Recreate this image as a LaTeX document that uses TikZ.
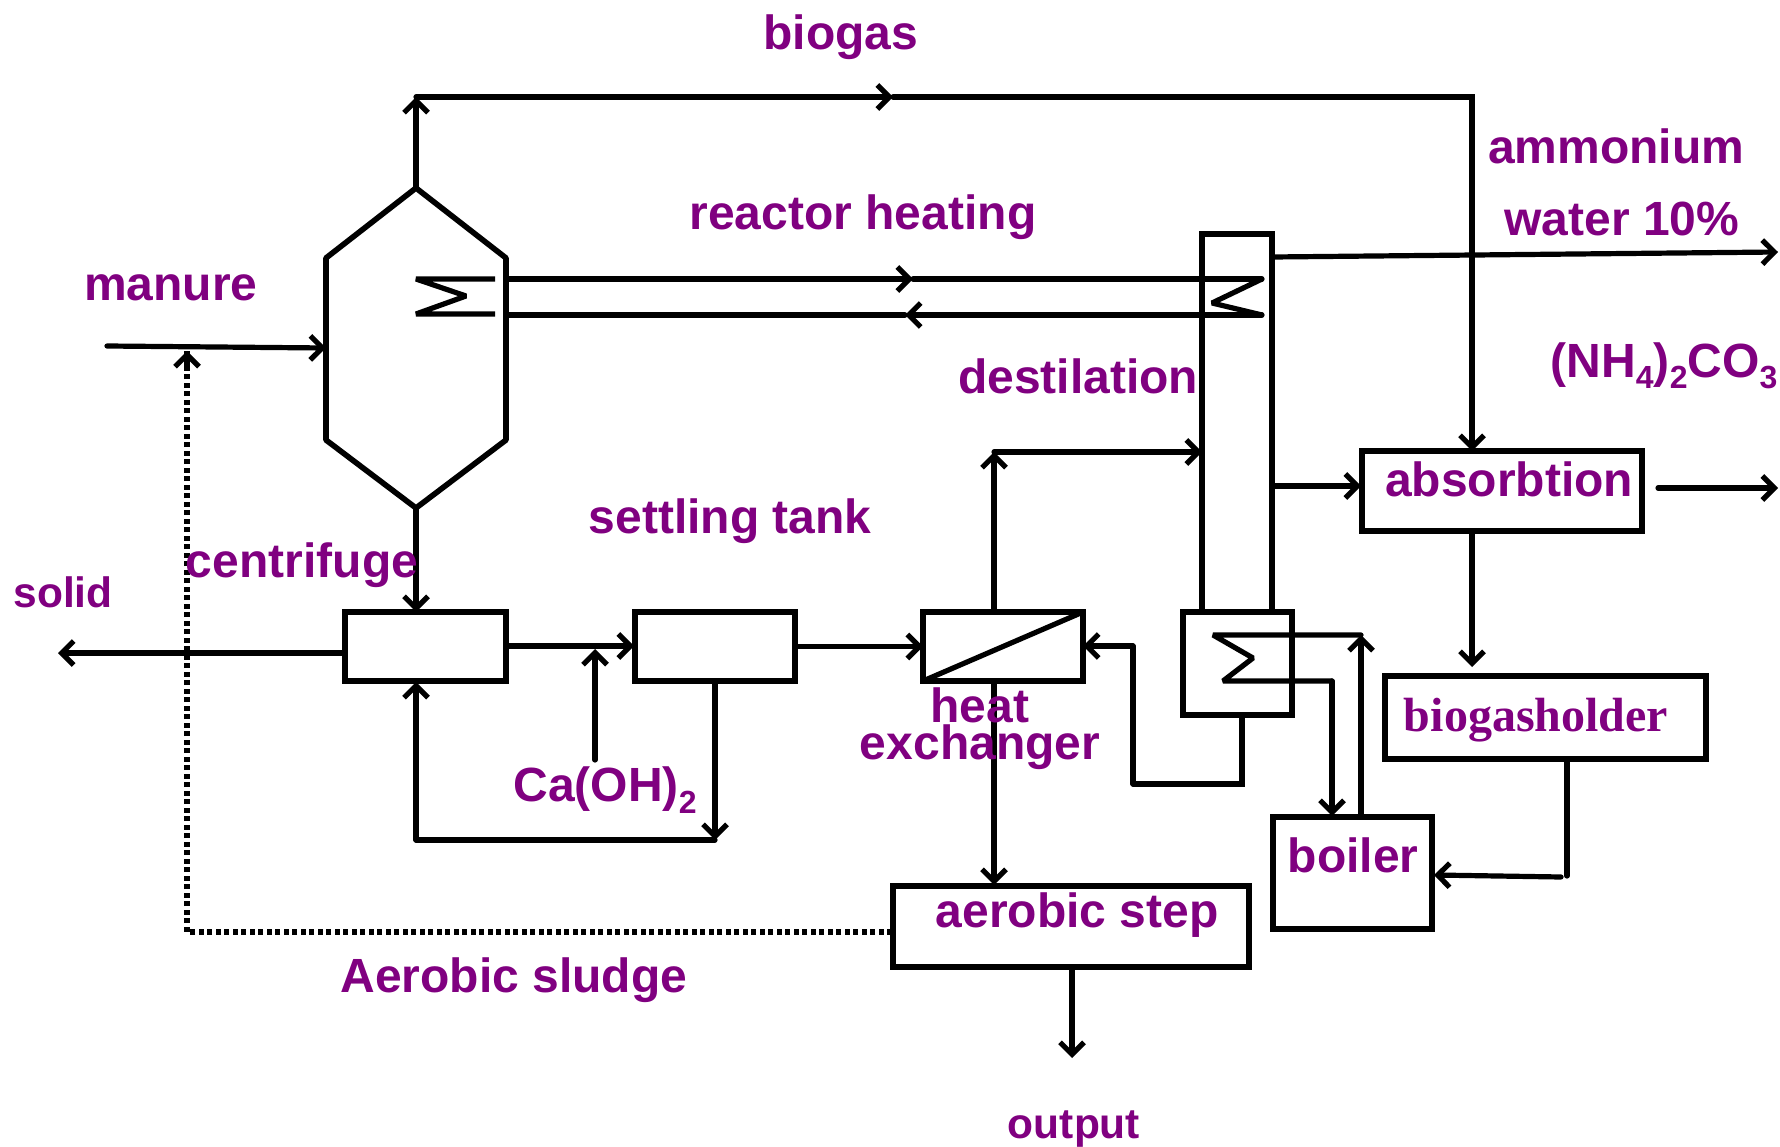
\documentclass[tikz,border=0pt]{standalone}
\usepackage{fontspec}
\setmainfont{Liberation Sans}[BoldFont={Liberation Sans Bold}]
\newfontfamily\serifbold{Liberation Serif Bold}
\usetikzlibrary{arrows.meta}
\definecolor{plum}{HTML}{800080}
\newcommand{\lowidx}[1]{\raisebox{-.24em}{\fontsize{32}{32}\selectfont #1}}
\tikzset{
  ln/.style={line width=5.2pt,line cap=round,line join=miter,draw=black},
  arr/.style={ln,-{Straight Barb[length=12pt,width=24pt,line width=5.2pt]}},
  boxnode/.style={draw=black,line width=5.6pt,inner sep=0pt,outer sep=0pt,fill=none},
  lab/.style={text=plum,font=\bfseries\fontsize{48}{48}\selectfont,inner sep=0pt,outer sep=0pt},
  labs/.style={text=plum,font=\bfseries\fontsize{42.5}{42.5}\selectfont,inner sep=0pt,outer sep=0pt},
}
\begin{document}
\begin{tikzpicture}[x=1pt,y=-1pt]
\useasboundingbox (0,0) rectangle (1780,1147);
% equipment
\coordinate (rt) at (416,188);
\coordinate (rb) at (416,508);
\draw[ln,line width=5.6pt,line join=round] (rt) -- (326,258) -- (326,440) -- (rb) -- (506,440) -- (506,258) -- cycle;
\node[boxnode,minimum width=161pt,minimum height=69pt] (cent) at (425.5,646.5) {};
\node[boxnode,minimum width=160pt,minimum height=69pt] (settle) at (715,646.5) {};
\node[boxnode,minimum width=160pt,minimum height=69pt] (hx) at (1003,646.5) {};
\node[boxnode,minimum width=70pt,minimum height=378pt] (col) at (1237,423) {};
\node[boxnode,minimum width=109pt,minimum height=103pt,fill=white] (reb) at (1237.5,663.5) {};
\node[boxnode,minimum width=280pt,minimum height=80pt] (abs) at (1502,491) {};
\node[boxnode,minimum width=321pt,minimum height=83pt] (hold) at (1545.5,717.5) {};
\node[boxnode,minimum width=159pt,minimum height=112pt] (boil) at (1352.5,873) {};
\node[boxnode,minimum width=356pt,minimum height=81pt] (aer) at (1071,926.5) {};
\draw[ln] (hx.south west) -- (hx.north east);
% reactor coil
\coordinate (c1a) at (416,279); \coordinate (c1b) at (495,279);
\coordinate (c1m) at (466,296);
\coordinate (c1c) at (416,314); \coordinate (c1d) at (495,314);
\draw[ln,line cap=butt,line join=bevel] (c1b) -- (c1a) -- (c1m) -- (c1c) -- (c1d);
% column coil
\coordinate (c2a) at (1262,279); \coordinate (c2m) at (1212,303); \coordinate (c2b) at (1262,315);
\draw[ln,line cap=butt,line join=bevel] (c2a) -- (c2m) -- (c2b);
% heating loop
\coordinate (h1) at (507,279); \coordinate (h2) at (913,279);
\coordinate (h4) at (905,315); \coordinate (h5) at (507,315);
\draw[arr] (h1) -- (h2);
\draw[ln] (h2) -- (c2a);
\draw[arr] (c2b) -- (h4);
\draw[ln] (h4) -- (h5);
% biogas
\coordinate (g1) at (416,97); \coordinate (g2) at (893,97); \coordinate (g3) at (1472,97);
\draw[arr] (rt) -- (g1);
\draw[arr] (g1) -- (g2);
\draw[arr] (g2) -- (g3) -- (g3 |- abs.north);
% manure
\coordinate (m0) at (107,346); \coordinate (m1) at (326,348);
\draw[arr] (m0) -- (m1);
% aerobic sludge
\coordinate (d1) at (187,932); \coordinate (d2) at (187,351); \coordinate (d0) at (892,932);
\draw[ln,line cap=butt,dash pattern=on 5pt off 3.5pt] (d0) -- (d1) -- (d2);
\draw[arr,line cap=butt] (187,366) -- (d2);
% main line
\coordinate (rc) at (416,612);
\draw[arr] (rb) -- (rc);
\coordinate (s0) at (58,653);
\draw[arr] (cent.west |- s0) -- (s0);
\coordinate (y1) at (506,646); \coordinate (y2) at (634,646);
\draw[arr] (y1) -- (y2);
\coordinate (ca0) at (595,760); \coordinate (ca1) at (595,649);
\draw[arr] (ca0) -- (ca1);
\draw[arr] (settle.east) -- (hx.west);
\coordinate (r1) at (715,840); \coordinate (r2) at (416,840); \coordinate (r3) at (416,682);
\draw[arr] (settle.south) -- (r1);
\draw[ln] (r1) -- (r2);
\draw[arr] (r2) -- (r3);
% heat exchanger out
\coordinate (v0) at (994,612); \coordinate (v1) at (994,452);
\draw[arr] (v0) -- (v1);
\draw[arr] (v1) -- (col.west |- v1);
\coordinate (w0) at (994,681); \coordinate (w1) at (994,885);
\draw[arr] (w0) -- (w1);
% reboiler return
\coordinate (b0) at (1242,715); \coordinate (b1) at (1242,784); \coordinate (b2) at (1133,784); \coordinate (b3) at (1133,646);
\draw[ln,line join=miter] (b0) -- (b1) -- (b2);
\draw[ln] (b2) -- (b3);
\draw[arr] (b3) -- (hx.east |- b3);
% water out, column to absorption
\coordinate (o0) at (1273,257); \coordinate (o1) at (1778,252);
\draw[arr] (o0) -- (o1);
\coordinate (a0) at (1273,486); \coordinate (a1) at (1361,486);
\draw[arr] (a0) -- (a1);
\coordinate (e0) at (1658,488); \coordinate (e1) at (1778,488);
\draw[arr] (e0) -- (e1);
% absorption to holder
\coordinate (g4) at (1472,531); \coordinate (g5) at (1472,667);
\draw[arr] (g4) -- (g5);
% holder to boiler
\coordinate (k0) at (1567,759); \coordinate (k1) at (1567,876);
\coordinate (k2) at (1561,877); \coordinate (k3) at (1434,875);
\draw[ln] (k0) -- (k1);
\draw[arr] (k2) -- (k3);
% reboiler coil and boiler loop
\coordinate (t1) at (1213,635); \coordinate (t2) at (1361,635); \coordinate (t3) at (1253,658);
\coordinate (t4) at (1223,681); \coordinate (t5) at (1332,681); \coordinate (t6) at (1332,816); \coordinate (t7) at (1361,816);
\draw[ln,line join=bevel] (t2) -- (t1) -- (t3) -- (t4) -- (t5);
\draw[arr] (t5) -- (t6);
\draw[arr] (t7) -- (t2);
% output
\coordinate (u0) at (1072,967); \coordinate (u1) at (1072,1058);
\draw[arr] (u0) -- (u1);
% labels
\node[lab] (lbiogas) at (841,37) {biogas};
\node[lab] (lamm) at (1616,146) {ammonium};
\node[lab] (lwat) at (1622,219) {water 10\%};
\node[lab] (lreact) at (863,217.5) {reactor heating};
\node[lab] (lman) at (171,287.5) {manure};
\node[lab] (ldest) at (1078,376) {destilation};
\node[lab] (lnh) at (1664,366) {(NH\lowidx{4})\lowidx{2}CO\lowidx{3}};
\node[lab] (labs) at (1509,479) {absorbtion};
\node[lab] (lsett) at (730,521.5) {settling tank};
\node[lab] (lcent) at (302,565.5) {centrifuge};
\node[labs] (lsol) at (63,592) {solid};
\node[lab] (lheat) at (980,705) {heat};
\node[lab] (lexch) at (980,747) {exchanger};
\node[lab] (lca) at (605,790) {Ca(OH)\lowidx{2}};
\node[text=plum,font=\serifbold\fontsize{48}{48}\selectfont,inner sep=0pt] (lhold) at (1536,720) {biogasholder};
\node[lab] (lboil) at (1353,855) {boiler};
\node[lab] (laer) at (1077,915.5) {aerobic step};
\node[lab] (lslu) at (514,980.5) {Aerobic sludge};
\node[labs] (lout) at (1074,1129.5) {output};
\end{tikzpicture}
\end{document}
